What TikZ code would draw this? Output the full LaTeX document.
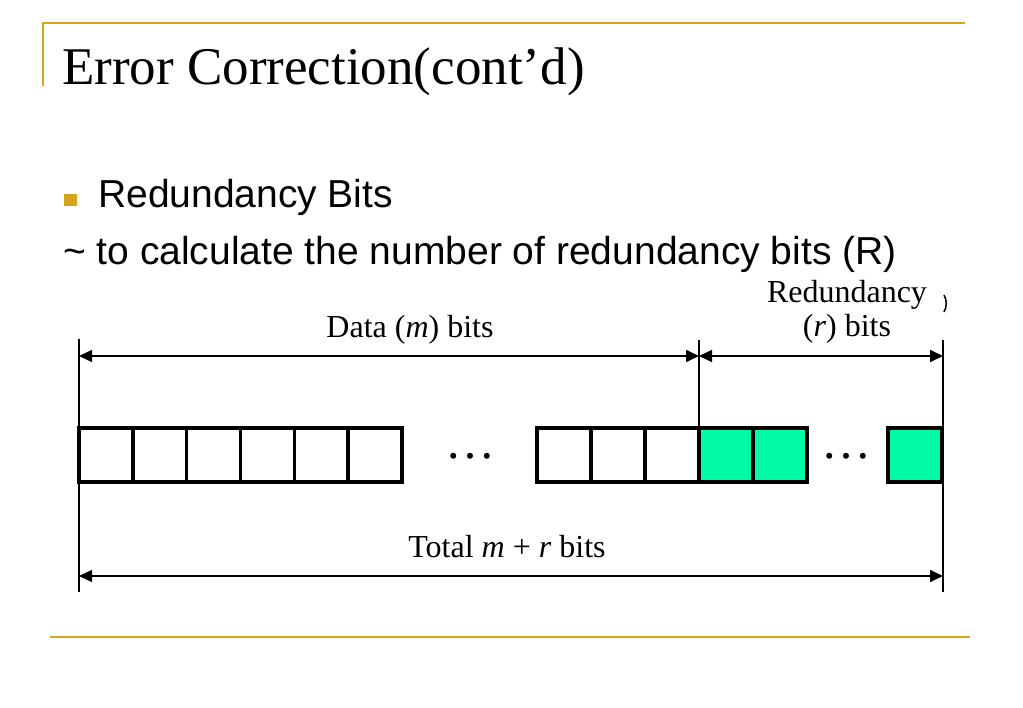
\documentclass[tikz,border=0pt]{standalone}
\usepackage{fontspec}
\setmainfont{Liberation Serif}
\newfontfamily\sansf{Liberation Sans}
\usetikzlibrary{arrows.meta}
\definecolor{gold}{RGB}{214,165,30}
\definecolor{bitgreen}{RGB}{0,250,168}
\begin{document}
\begin{tikzpicture}[x=1pt,y=-1pt,
  bitbox/.style={draw=black,line width=3.5pt,minimum width=53.8pt,minimum height=54pt,inner sep=0pt,outer sep=0pt},
  redbox/.style={bitbox,fill=bitgreen},
  thinline/.style={line width=1.6pt},
  dimline/.style={thinline,{Triangle[length=13pt,width=12pt]}-{Triangle[length=13pt,width=12pt]}},
  lbl/.style={font=\fontsize{32}{36}\selectfont,inner sep=0pt,anchor=base},
  rulestyle/.style={draw=gold,line width=2.5pt},
  dotsstyle/.style={font=\fontsize{50}{50}\selectfont,inner sep=0pt,anchor=base}
]
\useasboundingbox (0,0) rectangle (1023,708);
\fill[white] (0,0) rectangle (1023,708);

% decoration
\coordinate (tl) at (43,23);
\coordinate (tlb) at (43,86);
\coordinate (tr) at (965,23);
\coordinate (bl) at (50,637);
\coordinate (br) at (970,637);
\draw[rulestyle] (tlb) -- (tl) -- (tr);
\draw[rulestyle] (bl) -- (br);

% title
\node[anchor=base west,inner sep=0pt,font=\fontsize{53}{60}\selectfont] (title) at (62,85) {Error Correction(cont'd)};

% bullet text
\node[fill=gold,minimum width=13pt,minimum height=12pt,inner sep=0pt] (bul) at (70,200) {};
\node[anchor=base west,inner sep=0pt,font=\sansf\fontsize{39}{44}\selectfont] (l1) at (98,208) {Redundancy Bits};
\node[anchor=base west,inner sep=0pt,font=\sansf\fontsize{39}{44}\selectfont] (l2) at (63,265) {\textasciitilde{} to calculate the number of redundancy bits (R)};

% bits
\foreach \i in {0,...,5} {
  \node[bitbox] (d\i) at ({79+26.9+\i*53.83},455) {};
}
\node[bitbox] (e0) at (564,455) {};
\node[bitbox] (e1) at (618,455) {};
\node[bitbox] (e2) at (672,455) {};
\node[redbox] (g0) at (726,455) {};
\node[redbox] (g1) at (780,455) {};
\node[redbox] (g2) at (915,455) {};

\node[dotsstyle] (dots1) at (470,458) {…};
\node[dotsstyle] (dots2) at (846,458) {…};

% dimension lines
\coordinate (vlt) at (79,339);
\coordinate (vlb) at (79,592);
\coordinate (vmt) at (699,340);
\coordinate (vmb) at (699,428);
\coordinate (vrt) at (943,340);
\coordinate (vrb) at (943,592);
\draw[thinline] (vlt) -- (vlb);
\draw[thinline] (vmt) -- (vmb);
\draw[thinline] (vrt) -- (vrb);

\coordinate (al) at (79,356);
\coordinate (am) at (699,356);
\coordinate (ar) at (943,356);
\coordinate (bl2) at (79,576);
\coordinate (br2) at (943,576);
\draw[dimline] (al) -- (am);
\draw[dimline] (am) -- (ar);
\draw[dimline] (bl2) -- (br2);

% labels
\node[lbl] (ldata) at (410,338) {Data (\textit{m}) bits};
\node[lbl] (lred1) at (847,303) {Redundancy};
\node[lbl] (lred2) at (847,337) {(\textit{r}) bits};
\node[lbl] (ltot) at (507,557) {Total \textit{m} + \textit{r} bits};

% small fragment at right
\coordinate (fa) at (944,295);
\coordinate (fb) at (944,312);
\draw[line width=1.5pt] (fa) .. controls (947,300) and (947,307) .. (fb);
\end{tikzpicture}
\end{document}
